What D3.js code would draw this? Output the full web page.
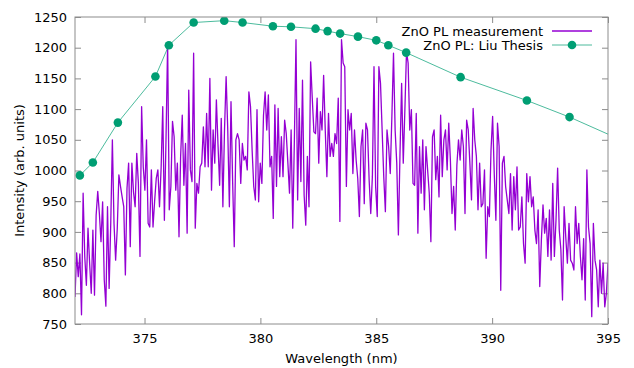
<!DOCTYPE html>
<html>
<head>
<meta charset="utf-8">
<script src="https://cdn.jsdelivr.net/npm/d3@7"></script>
<style>
  body { margin: 0; background: #fff; }
  svg text { font-family: "DejaVu Sans", sans-serif; fill: #000; }
</style>
</head>
<body>
<div id="chart"></div>
<script>
// ─── Data ───
// measured PL spectrum, evenly sampled from 372 nm to 395 nm
const measIntensity = [
  794, 866, 827, 864, 765, 963, 860, 813, 906, 849, 800, 903, 797, 927, 966, 930, 884, 949, 822, 779, 941, 808, 914,
  1050, 914, 854, 905, 993, 974, 957, 941, 830, 971, 1012, 876, 1012, 965, 941, 1028, 979, 860, 1104, 1006, 968, 1050, 914, 908, 1001, 908, 950, 987, 1001, 941, 1004,
  1104, 919, 1050, 1207, 936, 974, 1080, 1055, 968, 1012, 892, 1023, 1090, 976, 1044, 898, 1131, 1001, 982, 1191, 906, 979, 963, 1006, 1012, 1071, 1006, 1093,
  1006, 1150, 968, 1066, 1012, 1115, 1042, 976, 1085, 941, 1066, 1153, 1066, 941, 1112, 982, 876, 1050, 1060, 1050, 979, 1044, 1017, 1023, 1001, 1128, 1104, 1033,
  974, 952, 1099, 949, 1012, 979, 1090, 1128, 1066, 1123, 1006, 1023, 922, 1107, 974, 1101, 990, 1055, 990, 1082, 1060, 1012, 963, 1066, 906, 1050, 1213, 952,
  1101, 982, 1147, 960, 911, 1023, 941, 1177, 1118, 1063, 1060, 1118, 1012, 1096, 1066, 1155, 1066, 990, 1093, 1023, 1044, 1023, 1060, 1044, 1118, 917, 1213,
  1175, 1169, 974, 1099, 1066, 1093, 995, 1066, 1017, 987, 925, 1039, 1066, 946, 1077, 1066, 985, 930, 990, 1169, 974, 925, 1169, 1142, 1066, 990, 933, 1066,
  1039, 995, 1088, 1191, 1066, 1012, 895, 1028, 1142, 1012, 1099, 1194, 1175, 1066, 1099, 979, 976, 1093, 898, 1039, 963, 1050, 936, 1039, 1001, 963, 884, 1055,
  1066, 985, 1023, 957, 1090, 990, 1050, 1066, 1001, 1077, 1017, 930, 974, 903, 1009, 1050, 1017, 1066, 1039, 930, 1082, 1066, 1012, 952, 1101, 1050, 1023, 936,
  1012, 941, 946, 1001, 857, 941, 925, 1033, 1088, 995, 919, 1077, 1039, 805, 1012, 1023, 974, 952, 930, 995, 903, 990, 936, 1006, 903, 908, 957, 881,
  849, 995, 949, 990, 941, 957, 903, 881, 936, 811, 887, 944, 898, 922, 860, 936, 854, 979, 860, 919, 1004, 903, 871, 789, 941, 892,
  849, 914, 854, 849, 838, 941, 881, 914, 860, 822, 889, 789, 1001, 908, 881, 762, 914, 854, 838, 778, 854, 800, 849, 778, 800, 849
];
const measStart = 372, measEnd = 395;

// reference curve (Liu thesis)
const liuWavelength = [372.21, 372.77, 373.85, 375.47, 376.05, 377.12, 378.44, 379.23, 380.54, 381.32, 382.38,
                       382.9, 383.44, 384.21, 385.0, 385.52, 386.29, 388.64, 391.5, 393.34, 396.5];
const liuIntensity  = [992, 1013, 1078, 1153, 1204, 1241, 1244, 1241, 1235, 1234, 1231,
                       1227, 1223, 1218, 1212, 1204, 1192, 1152, 1114, 1087, 1034];

const xTicks = [375, 380, 385, 390, 395];
const yTicks = [750, 800, 850, 900, 950, 1000, 1050, 1100, 1150, 1200, 1250];

// ─── Layout ───
const width = 634, height = 368;
const margin = { top: 17, right: 26, bottom: 44, left: 75 };
const iw = width - margin.left - margin.right;
const ih = height - margin.top - margin.bottom;

const svg = d3.select("#chart").append("svg")
  .attr("width", width).attr("height", height);

const x = d3.scaleLinear().domain([372, 395]).range([0, iw]);
const y = d3.scaleLinear().domain([750, 1250]).range([ih, 0]);

const g = svg.append("g").attr("transform", `translate(${margin.left},${margin.top})`);

g.append("defs").append("clipPath").attr("id", "clip")
  .append("rect").attr("width", iw).attr("height", ih);

// ─── Axes (gnuplot style: inward ticks, mirrored) ───
const axisColor = "#8c8c8c";
function styleAxis(sel) {
  sel.select(".domain").remove();
  sel.selectAll(".tick line").attr("stroke", axisColor);
  sel.selectAll(".tick text").attr("font-size", 13).attr("font-family", "DejaVu Sans").attr("fill", "#000");
}

g.append("g").attr("transform", `translate(0,${ih})`)
  .call(d3.axisBottom(x).tickValues(xTicks).tickFormat(d3.format("d")).tickSize(-6).tickPadding(10))
  .call(styleAxis);
g.append("g")
  .call(d3.axisTop(x).tickValues(xTicks).tickSize(-6).tickFormat(""))
  .call(styleAxis);
g.append("g")
  .call(d3.axisLeft(y).tickValues(yTicks).tickFormat(d3.format("d")).tickSize(-6).tickPadding(8))
  .call(styleAxis);
g.append("g").attr("transform", `translate(${iw},0)`)
  .call(d3.axisRight(y).tickValues(yTicks).tickSize(-6).tickFormat(""))
  .call(styleAxis);

// ─── Series ───
const measStep = (measEnd - measStart) / (measIntensity.length - 1);
const meas = measIntensity.map((v, i) => ({ x: measStart + i * measStep, y: v }));
const liu = liuWavelength.map((w, i) => ({ x: w, y: liuIntensity[i] }));

const line = d3.line().x(d => x(d.x)).y(d => y(d.y));

const plot = g.append("g").attr("clip-path", "url(#clip)");

plot.append("path").datum(meas)
  .attr("d", line)
  .attr("fill", "none")
  .attr("stroke", "#9400d3")
  .attr("stroke-width", 1.3)
  .attr("stroke-linejoin", "round");

plot.append("path").datum(liu)
  .attr("d", line)
  .attr("fill", "none")
  .attr("stroke", "#009e73")
  .attr("stroke-opacity", 0.7)
  .attr("stroke-width", 1);

plot.selectAll(".pt").data(liu).enter().append("circle")
  .attr("class", "pt")
  .attr("cx", d => x(d.x)).attr("cy", d => y(d.y))
  .attr("r", 4.3)
  .attr("fill", "#009e73");

// border
g.append("rect").attr("width", iw).attr("height", ih)
  .attr("fill", "none").attr("stroke", axisColor).attr("stroke-width", 1);

// ─── Legend ───
const legend = svg.append("g");
legend.append("text").attr("x", 543).attr("y", 35.5).attr("text-anchor", "end")
  .attr("font-size", 13).text("ZnO PL measurement");
legend.append("line").attr("x1", 552).attr("x2", 592).attr("y1", 31).attr("y2", 31)
  .attr("stroke", "#9400d3").attr("stroke-width", 1.3);
legend.append("text").attr("x", 543).attr("y", 50).attr("text-anchor", "end")
  .attr("font-size", 13).text("ZnO PL: Liu Thesis");
legend.append("line").attr("x1", 552).attr("x2", 592).attr("y1", 45).attr("y2", 45)
  .attr("stroke", "#009e73").attr("stroke-opacity", 0.7).attr("stroke-width", 1);
legend.append("circle").attr("cx", 572).attr("cy", 45).attr("r", 4.3).attr("fill", "#009e73");

// ─── Axis titles ───
svg.append("text")
  .attr("x", margin.left + iw / 2).attr("y", 363)
  .attr("text-anchor", "middle").attr("font-size", 13)
  .text("Wavelength (nm)");
svg.append("text")
  .attr("transform", `translate(24,${margin.top + ih / 2}) rotate(-90)`)
  .attr("text-anchor", "middle").attr("font-size", 13)
  .text("Intensity (arb. units)");
</script>
</body>
</html>
